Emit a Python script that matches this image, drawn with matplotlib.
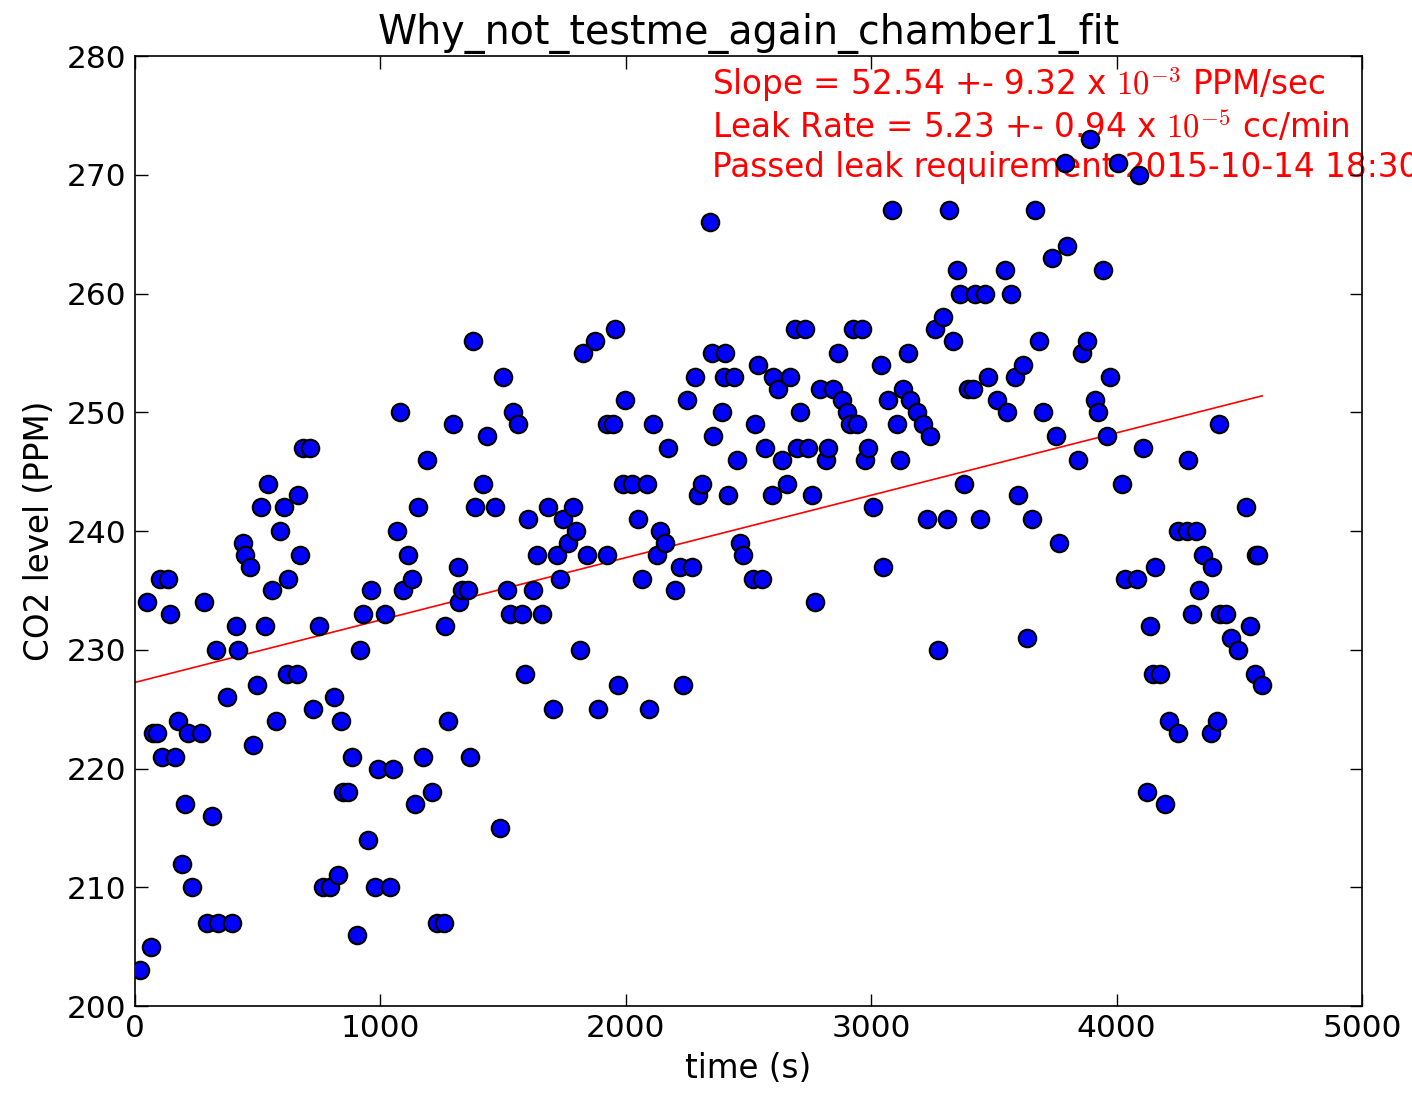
import matplotlib

matplotlib.use("Agg")

import matplotlib.pyplot as plt
import numpy as np

time_s = [
    20, 49, 65, 73, 90, 102, 110, 134, 143, 163, 175, 192, 204, 216, 232, 269,
    281, 293, 314, 330, 338, 375, 395, 412, 420, 440, 448, 469, 481, 497, 513,
    530, 542, 558, 575, 591, 607, 619, 623, 660, 664, 672, 685, 713, 725, 750,
    766, 795, 811, 827, 839, 848, 868, 884, 905, 917, 929, 949, 962, 978, 990,
    1019, 1039, 1051, 1068, 1080, 1092, 1112, 1129, 1141, 1153, 1174, 1190,
    1210, 1231, 1259, 1263, 1275, 1296, 1316, 1322, 1333, 1357, 1365, 1377,
    1386, 1418, 1434, 1467, 1487, 1500, 1516, 1528, 1540, 1561, 1577, 1589,
    1601, 1622, 1638, 1659, 1683, 1703, 1720, 1732, 1744, 1764, 1785, 1797,
    1813, 1826, 1842, 1875, 1887, 1923, 1923, 1948, 1956, 1968, 1989, 1997,
    2025, 2050, 2066, 2086, 2095, 2111, 2127, 2139, 2160, 2172, 2201, 2221,
    2233, 2249, 2270, 2282, 2294, 2311, 2343, 2351, 2355, 2392, 2400, 2404,
    2416, 2441, 2453, 2465, 2478, 2518, 2526, 2539, 2555, 2567, 2596, 2600,
    2620, 2637, 2657, 2669, 2690, 2698, 2710, 2730, 2742, 2759, 2771, 2791,
    2816, 2824, 2844, 2865, 2881, 2901, 2914, 2926, 2942, 2963, 2975, 2987,
    3007, 3040, 3048, 3068, 3085, 3105, 3117, 3130, 3150, 3158, 3187, 3211,
    3227, 3240, 3260, 3272, 3293, 3309, 3317, 3333, 3350, 3362, 3378, 3394,
    3415, 3423, 3443, 3464, 3476, 3513, 3545, 3553, 3570, 3586, 3598, 3619,
    3635, 3655, 3668, 3684, 3700, 3737, 3753, 3765, 3790, 3798, 3843, 3859,
    3879, 3892, 3912, 3924, 3945, 3961, 3973, 4006, 4022, 4034, 4083, 4091,
    4108, 4124, 4136, 4148, 4156, 4177, 4197, 4214, 4250, 4250, 4287, 4291,
    4307, 4324, 4336, 4352, 4385, 4389, 4409, 4417, 4421, 4446, 4466, 4495,
    4527, 4544, 4564, 4568, 4576, 4593,
]
co2_ppm = [
    203, 234, 205, 223, 223, 236, 221, 236, 233, 221, 224, 212, 217, 223, 210,
    223, 234, 207, 216, 230, 207, 226, 207, 232, 230, 239, 238, 237, 222, 227,
    242, 232, 244, 235, 224, 240, 242, 228, 236, 228, 243, 238, 247, 247, 225,
    232, 210, 210, 226, 211, 224, 218, 218, 221, 206, 230, 233, 214, 235, 210,
    220, 233, 210, 220, 240, 250, 235, 238, 236, 217, 242, 221, 246, 218, 207,
    207, 232, 224, 249, 237, 234, 235, 235, 221, 256, 242, 244, 248, 242, 215,
    253, 235, 233, 250, 249, 233, 228, 241, 235, 238, 233, 242, 225, 238, 236,
    241, 239, 242, 240, 230, 255, 238, 256, 225, 238, 249, 249, 257, 227, 244,
    251, 244, 241, 236, 244, 225, 249, 238, 240, 239, 247, 235, 237, 227, 251,
    237, 253, 243, 244, 266, 255, 248, 250, 253, 255, 243, 253, 246, 239, 238,
    236, 249, 254, 236, 247, 243, 253, 252, 246, 244, 253, 257, 247, 250, 257,
    247, 243, 234, 252, 246, 247, 252, 255, 251, 250, 249, 257, 249, 257, 246,
    247, 242, 254, 237, 251, 267, 249, 246, 252, 255, 251, 250, 249, 241, 248,
    257, 230, 258, 241, 267, 256, 262, 260, 244, 252, 252, 260, 241, 260, 253,
    251, 262, 250, 260, 253, 243, 254, 231, 241, 267, 256, 250, 263, 248, 239,
    271, 264, 246, 255, 256, 273, 251, 250, 262, 248, 253, 271, 244, 236, 236,
    270, 247, 218, 232, 228, 237, 228, 217, 224, 223, 240, 240, 246, 233, 240,
    235, 238, 223, 237, 224, 249, 233, 233, 231, 230, 242, 232, 228, 238, 238,
    227,
]

# linear fit drawn on the chart (PPM per second, PPM)
fit_slope = 5.254e-3
fit_intercept = 227.25

fit_lines = [
    r"Slope = 52.54 +- 9.32 x $10^{-3}$ PPM/sec",
    r"Leak Rate = 5.23 +- 0.94 x $10^{-5}$ cc/min",
    "Passed leak requirement 2015-10-14 18:30",
]
fit_text_y = [276.7, 273.1, 269.8]

plt.rcParams["mathtext.fontset"] = "cm"

fig = plt.figure(figsize=(14.12, 10.96), dpi=100)
ax = fig.add_axes([0.0956, 0.0821, 0.869, 0.8668])

t = np.array(time_s)
ax.plot(t, co2_ppm, "o", color="blue", markeredgecolor="black",
        markeredgewidth=1.6, markersize=12.5, zorder=3)

fit_x = np.array([0, t.max()])
ax.plot(fit_x, fit_intercept + fit_slope * fit_x, color="red", linewidth=1.2,
        zorder=2)

for line, y in zip(fit_lines, fit_text_y):
    ax.text(2350, y, line, color="red", fontsize=23.5, zorder=1)

ax.set_xlim(0, 5000)
ax.set_ylim(200, 280)
ax.set_xticks(np.arange(0, 5001, 1000))
ax.set_yticks(np.arange(200, 281, 10))
ax.tick_params(direction="in", top=True, right=True, length=9, width=1,
               labelsize=22.5, pad=6)
for spine in ax.spines.values():
    spine.set_linewidth(1.2)

ax.set_title("Why_not_testme_again_chamber1_fit", fontsize=28.5, pad=9)
ax.set_xlabel("time (s)", fontsize=23.5, labelpad=6)
ax.set_ylabel("CO2 level (PPM)", fontsize=23.5, labelpad=8)

fig.savefig("out.png", dpi=100)
